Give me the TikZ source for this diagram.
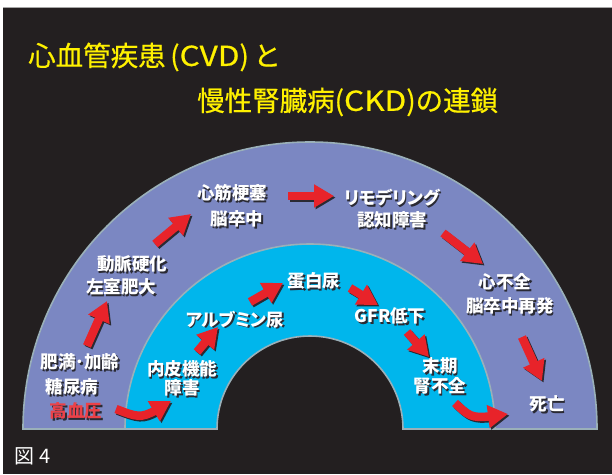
\documentclass[tikz,border=0pt]{standalone}
\usepackage{fontspec}
\usepackage{graphicx}
\newfontfamily\jp{Noto Sans CJK JP}
\newfontfamily\jpt{Noto Sans CJK JP}[FakeBold=0.6]
\newfontfamily\jpp{Noto Sans CJK JP}[RawFeature=+palt]
\usetikzlibrary{arrows.meta,bending,calc}
\definecolor{bg}{HTML}{231F20}
\definecolor{purp}{HTML}{7B87C2}
\definecolor{cyanring}{HTML}{00B6EC}
\definecolor{rim}{HTML}{9AB0B9}
\definecolor{arrred}{HTML}{E8232A}
\definecolor{hbp}{HTML}{EC4148}
\definecolor{ttl}{HTML}{FFF100}
\definecolor{shd}{HTML}{2A2A33}
\tikzset{
  lbl/.style={font=\jpp\bfseries\fontsize{17.5}{17.5}\selectfont, text=white, inner sep=0pt},
  ttlstyle/.style={font=\jpt\fontsize{27.5}{27.5}\selectfont, text=ttl, inner sep=0pt, anchor=west},
  arrmain/.style={draw=arrred, line width=8.5pt, -{Triangle[length=20pt,width=22pt]}},
  arrsh/.style={arrmain, draw=shd},
  ring/.style={draw=rim, line width=1.6pt},
}
\newcommand\lab[4][white]{%
  \node[lbl] (#2) at (#3) {\rlap{\hspace{1.7pt}\raisebox{-1.7pt}{\color{shd}#4}}\color{#1}#4};}
\newcommand\redarr[2]{%
  \draw[arrsh] ($(#1)+(1.6,1.6)$) -- ($(#2)+(1.6,1.6)$);
  \draw[arrmain] (#1) -- (#2);}
\begin{document}
\begin{tikzpicture}[x=1pt,y=-1pt]
\useasboundingbox (0,0) rectangle (612,474);
\fill[white] (0,0) rectangle (612,474);
\fill[bg] (3,7) rectangle (612,474);
\draw[gray!70, line width=0.8pt] (3,7.4) -- (612,7.4);

% title
\node[ttlstyle] (title1) at (28,57) {心血管疾患\,(\scalebox{1.15}[1]{CVD})\,と};
\node[ttlstyle] (title2) at (197,102) {慢性腎臓病(\scalebox{1.15}[1]{CKD})の連鎖};

% rings
\coordinate (O) at (310,429);
\fill[purp] ($(O)+(180:287)$) arc[start angle=180,end angle=360,radius=287]
  -- ($(O)+(0:185)$) arc[start angle=0,end angle=-180,radius=185] -- cycle;
\fill[cyanring] ($(O)+(180:185)$) arc[start angle=180,end angle=360,radius=185]
  -- ($(O)+(0:93)$) arc[start angle=0,end angle=-180,radius=93] -- cycle;
\draw[ring] ($(O)+(180:287)$) arc[start angle=180,end angle=360,radius=287]
  -- ($(O)+(0:93)$) arc[start angle=0,end angle=-180,radius=93] -- cycle;
\draw[ring] ($(O)+(180:185)$) arc[start angle=180,end angle=360,radius=185];

% labels (outer ring)
\lab{mi}{232,194}{心筋梗塞}
\lab{st}{237,220}{脳卒中}
\lab{rm}{392,199}{リモデリング}
\lab{cg}{392,221}{認知障害}
\lab{as}{132,265}{動脈硬化}
\lab{lv}{121,288}{左室肥大}
\lab{hf}{505,283}{心不全}
\lab{rs}{510,307}{脳卒中再発}
\lab{ob}{80,363}{肥満･加齢}
\lab{dm}{72,388}{糖尿病}
\lab[hbp]{ht}{76,412}{高血圧}
\lab{dt}{547,405}{死亡}
% labels (inner ring)
\lab{en}{182,370}{内皮機能}
\lab{ed}{182,389}{障害}
\lab{ab}{235,320}{アルブミン尿}
\lab{pu}{314,282}{蛋白尿}
\lab{gf}{390,317}{GFR低下}
\lab{es}{440,367}{末期}
\lab{rf}{440,387}{腎不全}

\node[font=\jp\fontsize{20}{20}\selectfont, text=white, anchor=west, inner sep=0pt] (fig) at (14,456) {図\hspace{5pt}4};

% arrow end points
\coordinate (a2t) at (87,346);  \coordinate (a2h) at (107,301);
\coordinate (a3t) at (155,244); \coordinate (a3h) at (191,214);
\coordinate (a4t) at (288,196); \coordinate (a4h) at (334,196);
\coordinate (a5t) at (443,233); \coordinate (a5h) at (483,264);
\coordinate (a6t) at (522,337); \coordinate (a6h) at (542,381);
\coordinate (a8t) at (197,352); \coordinate (a8h) at (218,327);
\coordinate (a9t) at (250,302); \coordinate (a9h) at (283,283);
\coordinate (a10t) at (350,288); \coordinate (a10h) at (378,305);
\coordinate (a11t) at (407,332); \coordinate (a11h) at (429,357);
\coordinate (a1t) at (116,409); \coordinate (a1c) at (142,419); \coordinate (a1h) at (171,401);
\coordinate (a7t) at (455,403); \coordinate (a7c) at (472,419); \coordinate (a7h) at (508,414);

\redarr{a2t}{a2h}
\redarr{a3t}{a3h}
\redarr{a4t}{a4h}
\redarr{a5t}{a5h}
\redarr{a6t}{a6h}
\redarr{a8t}{a8h}
\redarr{a9t}{a9h}
\redarr{a10t}{a10h}
\redarr{a11t}{a11h}
\draw[arrsh] ($(a1t)+(1.6,1.6)$) .. controls ($(a1c)+(1.6,1.6)$) .. ($(a1h)+(1.6,1.6)$);
\draw[arrmain] (a1t) .. controls (a1c) .. (a1h);
\draw[arrsh] ($(a7t)+(1.6,1.6)$) .. controls ($(a7c)+(1.6,1.6)$) .. ($(a7h)+(1.6,1.6)$);
\draw[arrmain] (a7t) .. controls (a7c) .. (a7h);
\end{tikzpicture}
\end{document}
